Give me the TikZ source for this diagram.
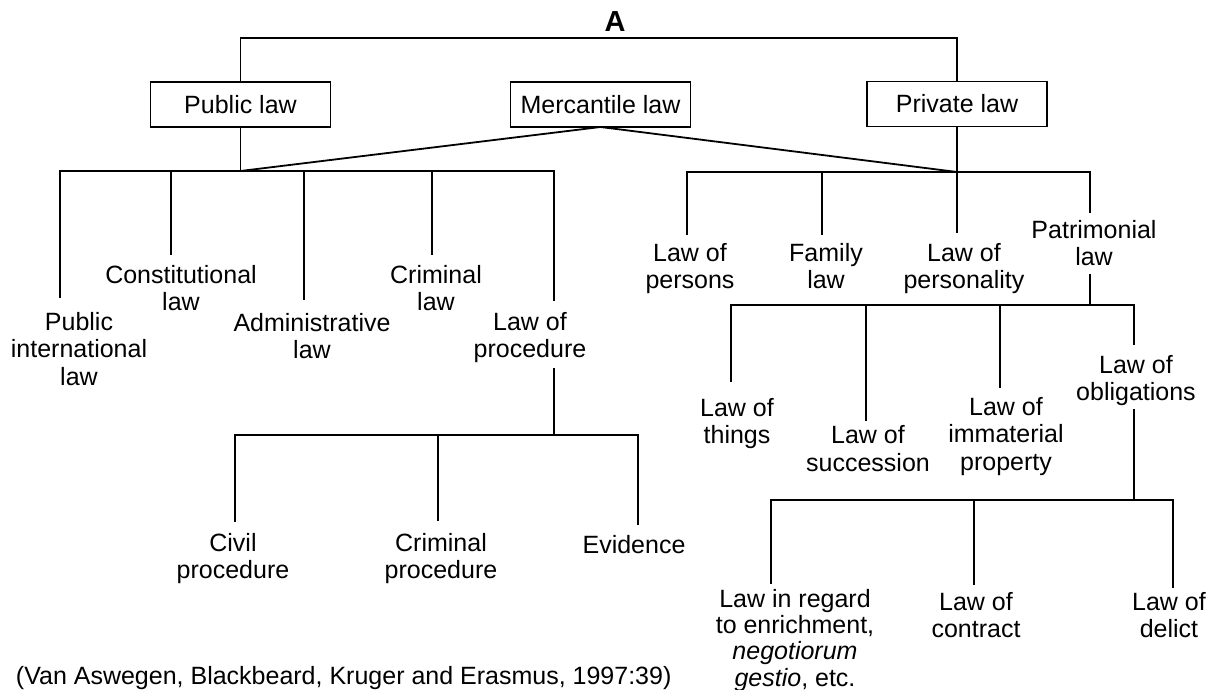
\documentclass[tikz,border=0pt]{standalone}
\usepackage{fontspec}
\setmainfont{Liberation Sans}
\begin{document}
\begin{tikzpicture}[x=1pt,y=-1pt,
  every node/.style={inner sep=0pt, outer sep=0pt},
  txt/.style={font=\fontsize{25}{27.5}\selectfont},
  lbl/.style={txt, align=center, anchor=north},
  lawbox/.style={txt, draw, line width=1.8pt, minimum width=180pt, minimum height=45pt},
  link/.style={line width=1.8pt}]
\useasboundingbox (0,0) rectangle (1215,690);

% title and the three main branches
\node[font=\bfseries\fontsize{29}{30}\selectfont] (title) at (615,22) {A};
\node[lawbox] (pub) at (240.5,104.5) {Public law};
\node[lawbox] (mer) at (600.5,104.5) {Mercantile law};
\node[lawbox] (pri) at (957,104) {Private law};

\coordinate (tb) at (600,38);
\draw[link] (pub.north) |- (tb) -| (pri.north);

\coordinate (jl) at (240.5,171);
\coordinate (jr) at (957,172);
\draw[link] (pub.south) -- (jl);
\draw[link] (pri.south) -- (jr);
\draw[link] (jl) -- (mer.south) -- (jr);

% public law subdivisions
\node[lbl] (pil) at (79,312) {Public\\international\\law};
\node[lbl] (con) at (181,265) {Constitutional\\law};
\node[lbl] (adm) at (312,313) {Administrative\\law};
\node[lbl] (cri) at (436,265) {Criminal\\law};
\node[lbl] (lop) at (530,312) {Law of\\procedure};

\coordinate (d1) at (60,171);
\coordinate (d2) at (171,171);
\coordinate (d3) at (304,171);
\coordinate (d4) at (432,171);
\coordinate (d5) at (554,171);
\draw[link, shorten <=14pt, shorten >=11pt] (d1 |- pil.north) -- (d1) -- (d5) -- (d5 |- lop.north);
\draw[link, shorten >=10pt] (d2) -- (d2 |- con.north);
\draw[link, shorten >=13pt] (d3) -- (d3 |- adm.north);
\draw[link, shorten >=10pt] (d4) -- (d4 |- cri.north);

% law of procedure
\node[lbl] (civ) at (233,533) {Civil\\procedure};
\node[lbl] (crp) at (441,533) {Criminal\\procedure};
\node[lbl] (evi) at (634,535) {Evidence};

\coordinate (p0) at (554,435);
\coordinate (q1) at (235,435);
\coordinate (q2) at (438,435);
\coordinate (q3) at (638,435);
\draw[link, shorten <=5pt] (d5 |- lop.south) -- (p0);
\draw[link, shorten <=11pt, shorten >=10pt] (q1 |- civ.north) -- (q1) -- (q3) -- (q3 |- evi.north);
\draw[link, shorten >=12pt] (q2) -- (q2 |- crp.north);

% private law subdivisions
\node[lbl] (per) at (690,243) {Law of\\persons};
\node[lbl] (fam) at (826,243) {Family\\law};
\node[lbl] (pers) at (964,243) {Law of\\personality};
\node[lbl] (pat) at (1094,220) {Patrimonial\\law};

\coordinate (r1) at (687,172);
\coordinate (r2) at (822,172);
\coordinate (r3) at (957,172);
\coordinate (r4) at (1090,172);
\draw[link, shorten <=8pt, shorten >=7pt] (r1 |- per.north) -- (r1) -- (r4) -- (r4 |- pat.north);
\draw[link, shorten >=8pt] (r2) -- (r2 |- fam.north);
\draw[link, shorten >=10pt] (r3) -- (r3 |- pers.north);

% patrimonial law
\node[lbl] (thi) at (737,398) {Law of\\things};
\node[lbl] (suc) at (868,425.5) {Law of\\succession};
\node[lbl] (imm) at (1006,397) {Law of\\immaterial\\property};
\node[lbl] (obl) at (1136,355) {Law of\\obligations};

\coordinate (t0) at (1090,305);
\coordinate (t1) at (731,305);
\coordinate (t2) at (866,305);
\coordinate (t3) at (1000,305);
\coordinate (t4) at (1134,305);
\draw[link, shorten <=8pt] (r4 |- pat.south) -- (t0);
\draw[link, shorten <=16pt, shorten >=10pt] (t1 |- thi.north) -- (t1) -- (t4) -- (t4 |- obl.north);
\draw[link, shorten >=5pt] (t2) -- (t2 |- suc.north);
\draw[link, shorten >=9pt] (t3) -- (t3 |- imm.north);

% law of obligations
\node[lbl, font=\fontsize{25}{26.3}\selectfont] (enr) at (795,589) {Law in regard\\to enrichment,\\\itshape negotiorum\\\itshape gestio\upshape, etc.};
\node[lbl] (ctr) at (976,592) {Law of\\contract};
\node[lbl] (del) at (1169,592) {Law of\\delict};

\coordinate (u0) at (1134,500);
\coordinate (u1) at (771,500);
\coordinate (u2) at (974,500);
\coordinate (u3) at (1173,500);
\draw[link, shorten <=3pt] (t4 |- obl.south) -- (u0);
\draw[link, shorten <=5pt, shorten >=4pt] (u1 |- enr.north) -- (u1) -- (u3) -- (u3 |- del.north);
\draw[link, shorten >=7pt] (u2) -- (u2 |- ctr.north);

% source line
\node[txt, anchor=base west] (src) at (16,684) {(Van Aswegen, Blackbeard, Kruger and Erasmus, 1997:39)};
\end{tikzpicture}
\end{document}
